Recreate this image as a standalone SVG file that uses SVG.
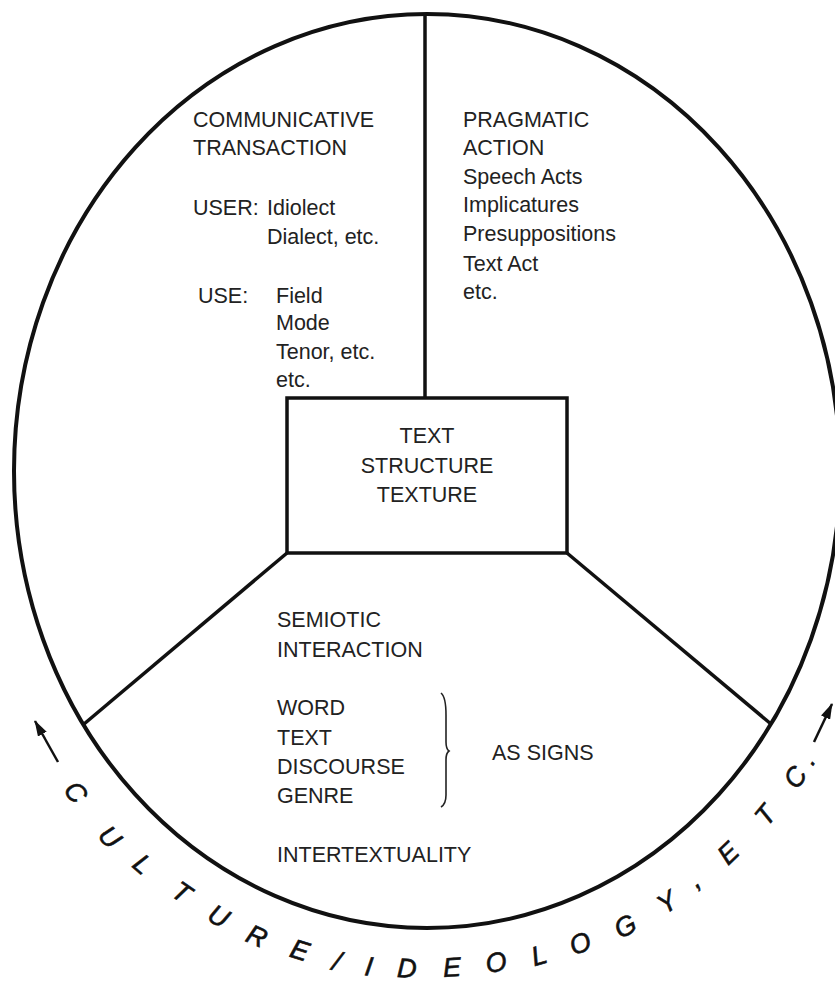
<svg xmlns="http://www.w3.org/2000/svg" width="835" height="983" viewBox="0 0 835 983">
<style>
.t{font-family:"Liberation Sans",Arial,Helvetica,sans-serif;font-size:21.5px;fill:#222}
.c{text-anchor:middle}
.k{font-family:"Liberation Sans",Arial,Helvetica,sans-serif;font-size:27px;font-style:italic;fill:#111;stroke:#111;stroke-width:0.6;text-anchor:middle}
.ln{stroke:#111;stroke-width:3.5;fill:none}
.ar{stroke:#111;stroke-width:2.5;fill:none}
</style>
<defs>
<marker id="ah2" viewBox="0 0 16 10" refX="15" refY="5" markerWidth="16" markerHeight="10" markerUnits="userSpaceOnUse" orient="auto">
<path d="M0,0 L16,5 L0,10 Z" fill="#111"/>
</marker>
</defs>
<rect width="835" height="983" fill="#fff"/>
<g id="outer-circle">
<ellipse cx="427" cy="471" rx="413" ry="457" fill="none" stroke="#111" stroke-width="4"/>
</g>
<g id="connectors">
<line class="ln" x1="425" y1="14" x2="425" y2="398"/>
<line class="ln" x1="287" y1="553" x2="84" y2="724"/>
<line class="ln" x1="567" y1="553" x2="771" y2="724"/>
<line class="ar" x1="58" y1="762" x2="35" y2="721" marker-end="url(#ah2)"/>
<line class="ar" x1="814" y1="742" x2="832" y2="704" marker-end="url(#ah2)"/>
</g>
<g id="text-box">
<rect x="287" y="398" width="280" height="155" fill="#fff" stroke="#111" stroke-width="3.5"/>
<text class="t c" x="427" y="443">TEXT</text>
<text class="t c" x="427" y="473">STRUCTURE</text>
<text class="t c" x="427" y="502">TEXTURE</text>
</g>
<g id="communicative-transaction">
<text class="t" x="193" y="127">COMMUNICATIVE</text>
<text class="t" x="193" y="155">TRANSACTION</text>
<text class="t" x="193" y="215">USER:</text>
<text class="t" x="267" y="215">Idiolect</text>
<text class="t" x="267" y="244">Dialect, etc.</text>
<text class="t" x="198" y="303">USE:</text>
<text class="t" x="276" y="303">Field</text>
<text class="t" x="276" y="330">Mode</text>
<text class="t" x="276" y="359">Tenor, etc.</text>
<text class="t" x="276" y="387">etc.</text>
</g>
<g id="pragmatic-action">
<text class="t" x="463" y="127">PRAGMATIC</text>
<text class="t" x="463" y="155">ACTION</text>
<text class="t" x="463" y="184">Speech Acts</text>
<text class="t" x="463" y="212">Implicatures</text>
<text class="t" x="463" y="241">Presuppositions</text>
<text class="t" x="463" y="271">Text Act</text>
<text class="t" x="463" y="299">etc.</text>
</g>
<g id="semiotic-interaction">
<text class="t" x="277" y="627">SEMIOTIC</text>
<text class="t" x="277" y="657">INTERACTION</text>
<text class="t" x="277" y="715">WORD</text>
<text class="t" x="277" y="745">TEXT</text>
<text class="t" x="277" y="774">DISCOURSE</text>
<text class="t" x="277" y="803">GENRE</text>
<text class="t" x="277" y="862">INTERTEXTUALITY</text>
<path d="M441,693 Q446,697 446,715 L446,742 Q446,749 449,751 Q446,753 446,760 L446,795 Q446,804 441,807" fill="none" stroke="#222" stroke-width="1.6"/>
<text class="t" x="492" y="760">AS SIGNS</text>
</g>
<g id="culture-ideology">
<text class="k" transform="translate(76,792) rotate(52.7)" y="9.5">C</text>
<text class="k" transform="translate(110,837) rotate(46.2)" y="9.5">U</text>
<text class="k" transform="translate(143,864) rotate(41)" y="9.5">L</text>
<text class="k" transform="translate(182,892) rotate(34.9)" y="9.5">T</text>
<text class="k" transform="translate(219,916) rotate(29.2)" y="9.5">U</text>
<text class="k" transform="translate(257,936) rotate(23.5)" y="9.5">R</text>
<text class="k" transform="translate(300,950) rotate(17.5)" y="9.5">E</text>
<text class="k" transform="translate(337,961) rotate(12.3)" y="9.5">/</text>
<text class="k" transform="translate(369,966) rotate(7.8)" y="9.5">I</text>
<text class="k" transform="translate(407,968) rotate(2.6)" y="9.5">D</text>
<text class="k" transform="translate(452,967) rotate(-3.6)" y="9.5">E</text>
<text class="k" transform="translate(496,962) rotate(-9.7)" y="9.5">O</text>
<text class="k" transform="translate(539,955) rotate(-15.6)" y="9.5">L</text>
<text class="k" transform="translate(580,943) rotate(-21.4)" y="9.5">O</text>
<text class="k" transform="translate(625,926) rotate(-27.8)" y="9.5">G</text>
<text class="k" transform="translate(667,902) rotate(-34)" y="9.5">Y</text>
<text class="k" transform="translate(698,885) rotate(-38.4)" y="2">,</text>
<text class="k" transform="translate(728,853) rotate(-43.7)" y="9.5">E</text>
<text class="k" transform="translate(765,815) rotate(-50)" y="9.5">T</text>
<text class="k" transform="translate(795,777) rotate(-55.6)" y="9.5">C</text>
<text class="k" transform="translate(812,762) rotate(-58)" y="3">.</text>
</g>
</svg>
